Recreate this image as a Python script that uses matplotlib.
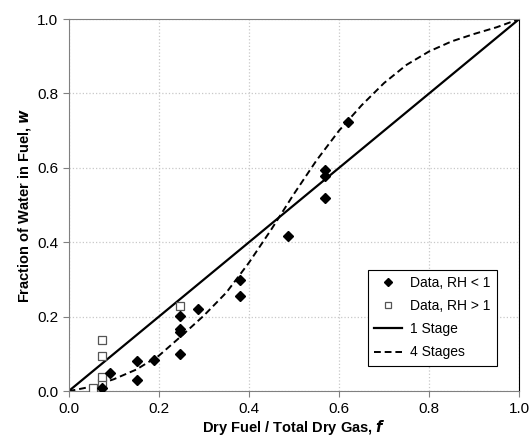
import numpy as np
import matplotlib
matplotlib.use("Agg")
import matplotlib.pyplot as plt

plt.rcParams['font.family'] = ['Liberation Sans', 'DejaVu Sans']

# data, RH < 1 (filled diamonds)
f_dry = [0.075, 0.092, 0.151, 0.151, 0.19, 0.248, 0.248, 0.248, 0.248, 0.287,
         0.38, 0.38, 0.486, 0.569, 0.569, 0.569, 0.619]
w_dry = [0.008, 0.049, 0.081, 0.029, 0.083, 0.203, 0.166, 0.158, 0.099, 0.220,
         0.298, 0.255, 0.417, 0.594, 0.578, 0.518, 0.723]

# data, RH > 1 (open squares)
f_wet = [0.055, 0.075, 0.075, 0.075, 0.075, 0.248]
w_wet = [0.008, 0.022, 0.037, 0.094, 0.138, 0.228]

# model curves
f_model = [0.0, 0.05, 0.1, 0.15, 0.2, 0.25, 0.3, 0.35, 0.4, 0.45, 0.5,
           0.55, 0.6, 0.65, 0.7, 0.75, 0.8, 0.85, 0.9, 0.95, 1.0]
w_4stage = [0.0, 0.012, 0.032, 0.058, 0.095, 0.148, 0.203, 0.265, 0.345, 0.435, 0.53,
            0.62, 0.70, 0.768, 0.828, 0.877, 0.913, 0.94, 0.96, 0.978, 1.0]
w_1stage = f_model

fig = plt.figure(figsize=(5.32, 4.43), dpi=100)
ax = fig.add_axes([0.129, 0.117, 0.847, 0.840])

ax.plot(f_dry, w_dry, linestyle='none', marker='D', markersize=4.8,
        color='black', label='Data, RH < 1', zorder=4)
ax.plot(f_wet, w_wet, linestyle='none', marker='s', markersize=6,
        markerfacecolor='white', markeredgecolor='#555555', markeredgewidth=0.9,
        label='Data, RH > 1', zorder=3)
ax.plot(f_model, w_1stage, color='black', linewidth=1.6, label='1 Stage', zorder=2)
ax.plot(f_model, w_4stage, color='black', linewidth=1.4, linestyle=(0, (3.5, 2)),
        label='4 Stages', zorder=2)

ax.set_xlim(0, 1)
ax.set_ylim(0, 1)
ax.set_xticks(np.arange(0, 1.01, 0.2))
ax.set_yticks(np.arange(0, 1.01, 0.2))
ax.xaxis.set_major_formatter(matplotlib.ticker.FormatStrFormatter('%.1f'))
ax.yaxis.set_major_formatter(matplotlib.ticker.FormatStrFormatter('%.1f'))
ax.tick_params(labelsize=11, length=4, color='#808080', direction='out')
ax.tick_params(axis='x', pad=4)
ax.grid(True, color='#c8c8c8', linestyle=':', linewidth=0.9)
ax.set_axisbelow(True)

for side in ['left', 'bottom', 'top']:
    ax.spines[side].set_color('#808080')
ax.spines['right'].set_color('black')

ax.set_xlabel('Dry Fuel / Total Dry Gas, $\\boldsymbol{f}$', fontsize=10.5, fontweight='bold', labelpad=1)
ax.set_ylabel('Fraction of Water in Fuel, $\\boldsymbol{w}$', fontsize=10.5, fontweight='bold', labelpad=3)

leg = ax.legend(loc='lower right', bbox_to_anchor=(0.966, 0.05), fontsize=10,
                fancybox=False, framealpha=1, edgecolor='black', markerscale=0.8,
                handlelength=2.0, borderpad=0.45, labelspacing=0.65, handletextpad=0.6)
leg.get_frame().set_linewidth(0.8)

fig.savefig('out.png', dpi=100)
